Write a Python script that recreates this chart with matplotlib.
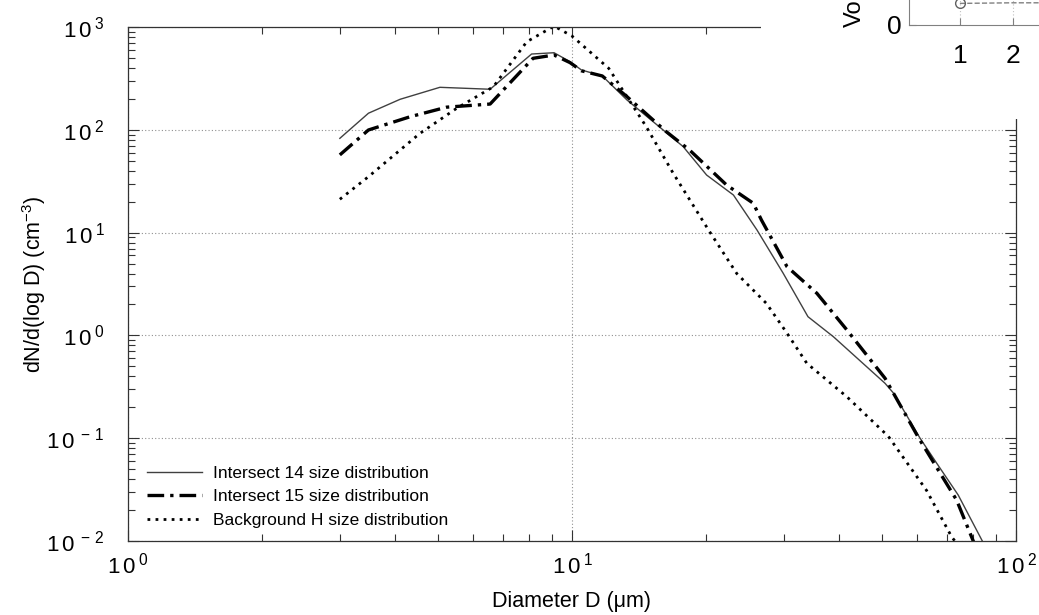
import matplotlib
matplotlib.use("Agg")
import matplotlib.pyplot as plt
from matplotlib.patches import Rectangle
from matplotlib.ticker import FuncFormatter
import numpy as np

plt.rcParams['font.family'] = ['Liberation Sans', 'DejaVu Sans']
plt.rcParams['mathtext.default'] = 'regular'

# size distributions (diameter in um, dN/dlogD in cm^-3)
d_int14 = [3.0, 3.48, 4.10, 5.04, 6.54, 8.11, 9.11, 9.9, 10.5, 11.7, 13.3, 17.8,
           20.1, 23.1, 26.1, 29.9, 34.0, 38.8, 50.7, 53.0, 60.8, 66.3, 74.1, 84.5]
n_int14 = [82.6, 145, 198, 259, 248, 546, 562, 460, 382, 334, 195, 68.6,
           36.3, 23.2, 10.6, 4.02, 1.52, 0.97, 0.342, 0.274, 0.1, 0.057, 0.028, 0.0095]

d_int15 = [3.0, 3.48, 4.32, 5.22, 6.54, 8.17, 9.11, 9.9, 10.5, 11.7, 13.3, 16.3,
           18.4, 22.3, 25.6, 26.7, 30.5, 35.6, 41.6, 50.7, 60.4, 73.5, 80.5]
n_int15 = [57, 99.6, 134, 166, 178, 496, 534, 450, 375, 334, 210, 96,
           63.5, 29, 19.3, 13.3, 4.66, 2.57, 1.13, 0.383, 0.1, 0.025, 0.0095]

d_bgH = [3.0, 3.48, 4.54, 5.50, 6.65, 7.91, 9.11, 10.0, 12.1, 14.7, 16.9, 20.3,
         23.5, 27.4, 30.5, 33.8, 41.6, 51.6, 62.9, 71.6, 73.5]
n_bgH = [21.1, 35, 92, 162, 262, 719, 1020, 817, 396, 107, 37.8, 10.6,
         4.0, 2.05, 1.05, 0.535, 0.253, 0.104, 0.031, 0.011, 0.0095]

labels = ["Intersect 14 size distribution",
          "Intersect 15 size distribution",
          "Background H size distribution"]

# the cut-off neighbouring panel in the top right corner
inset_x = [1, 2, 3]
inset_y = [0.36, 0.37, 0.37]


def decade_label(v, pos):
    e = int(round(np.log10(v)))
    es = str(e) if e >= 0 else r'-\,' + str(-e)
    return r'$\mathregular{1\,0^{\,%s}}$' % es


W, H = 1039, 615
fig = plt.figure(figsize=(W / 100, H / 100), dpi=100)
ax = fig.add_axes([128 / W, 1 - 541 / H, 888 / W, 514 / H])

ax.plot(d_int14, n_int14, color='#404040', lw=1.0, label=labels[0])
ax.plot(d_int15, n_int15, color='black', lw=2.4, dashes=(5, 1.8, 1, 1.8), label=labels[1])
ax.plot(d_bgH, n_bgH, color='black', lw=2.0, dashes=(1, 1.9), label=labels[2])

ax.set_xscale('log')
ax.set_yscale('log')
ax.set_xlim(1, 100)
ax.set_ylim(1e-2, 1e3)
ax.xaxis.set_major_formatter(FuncFormatter(decade_label))
ax.yaxis.set_major_formatter(FuncFormatter(decade_label))

ax.grid(True, which='major', linestyle=(0, (1, 2)), color='#909090', lw=0.8)
ax.tick_params(which='both', direction='in', top=True, right=True, colors='#333333',
               labelcolor='black', width=0.8)
ax.tick_params(which='major', length=8, labelsize=16)
ax.tick_params(axis='y', which='major', pad=17)
ax.tick_params(axis='x', which='major', pad=8)
ax.tick_params(which='minor', length=5)
for s in ax.spines.values():
    s.set_color('#333333')
    s.set_linewidth(0.9)

ax.set_xlabel('Diameter D (μm)', fontsize=15.5)
ax.set_ylabel('dN/d(log D) (cm$^{-3}$)', fontsize=15.5)
ax.xaxis.set_label_coords(0.5, -0.098)
ax.yaxis.set_label_coords(-0.09, 0.5)

ax.legend(loc='lower left', bbox_to_anchor=(0.021, 0.026), frameon=False,
          fontsize=12.5, handlelength=3.2, handletextpad=0.65, labelspacing=0.48,
          borderpad=0, borderaxespad=0)

# white piece of the pasted neighbouring panel
fig.add_artist(Rectangle((761 / W, 1 - 119 / H), (W - 761) / W, 119 / H,
                         transform=fig.transFigure, facecolor='white',
                         edgecolor='none', zorder=5))

iax = fig.add_axes([909 / W, 1 - 25 / H, 200 / W, 60 / H])
iax.set_zorder(6)
iax.plot(inset_x, inset_y, color='#808080', lw=1.0, ls='--', marker='o',
         markevery=[0], mfc='none', mec='#606060', ms=7)
iax.set_xlim(0.04, 0.04 + 200 / 53)
iax.set_ylim(0, 1)
iax.set_xticks([1, 2])
iax.set_yticks([0])
iax.grid(True, axis='x', linestyle=(0, (1, 2)), color='#c0c0c0', lw=0.8)
iax.tick_params(direction='in', length=5, colors='#808080', labelcolor='black',
                labelsize=19)
iax.tick_params(axis='x', pad=14)
iax.tick_params(axis='y', pad=5)
for side in ['top', 'right']:
    iax.spines[side].set_visible(False)
for side in ['left', 'bottom']:
    iax.spines[side].set_color('#808080')
fig.text(855 / W, 1 - 27 / H, 'Vo', rotation=90, ha='center', va='bottom',
         fontsize=17, zorder=7)

fig.savefig('out.png', dpi=100)
